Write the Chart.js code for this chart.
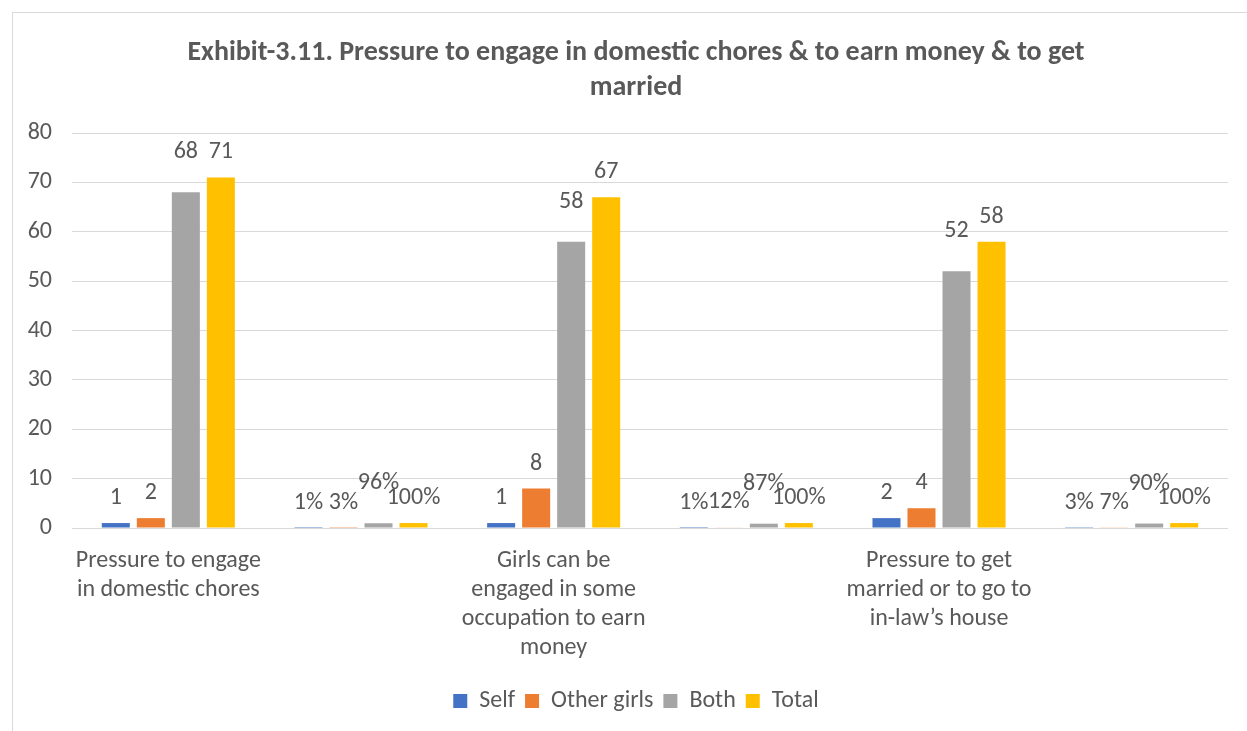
<!DOCTYPE html>
<html>
<head>
<meta charset="utf-8">
<script src="https://cdn.jsdelivr.net/npm/chart.js@4.4.0/dist/chart.umd.min.js"></script>
<style>
  html, body { margin: 0; padding: 0; background: #ffffff; width: 1247px; height: 731px; overflow: hidden; }
  #frame { position: absolute; left: 12px; top: 12px; width: 1240px; height: 730px; border: 1px solid #d9d9d9; box-sizing: border-box; }
  #wrap { position: absolute; left: 0; top: 0; width: 1247px; height: 731px; }
</style>
</head>
<body>
<div id="frame"></div>
<div id="wrap"><canvas id="c" width="1247" height="731"></canvas></div>
<script>
const titleLines = ["Exhibit-3.11. Pressure to engage in domestic chores & to earn money & to get", "married"];
const categories = [
  ["Pressure to engage", "in domestic chores"],
  "",
  ["Girls can be", "engaged in some", "occupation to earn", "money"],
  "",
  ["Pressure to get", "married or to go to", "in-law\u2019s house"],
  ""
];
const percentColumns = [false, true, false, true, false, true];
const seriesNames = ["Self", "Other girls", "Both", "Total"];
const selfValues  = [1, 0.01, 1, 0.01, 2, 0.03];
const otherValues = [2, 0.03, 8, 0.12, 4, 0.07];
const bothValues  = [68, 0.96, 58, 0.87, 52, 0.90];
const totalValues = [71, 1.00, 67, 1.00, 58, 1.00];
const yTicks = [0, 10, 20, 30, 40, 50, 60, 70, 80];

const FONT = "Carlito, 'Liberation Sans', Arial, sans-serif";
const TXT = "#595959";

const labelPlugin = {
  id: 'barLabels',
  afterDatasetsDraw(chart) {
    const ctx = chart.ctx;
    ctx.save();
    ctx.font = "24px " + FONT;
    ctx.fillStyle = TXT;
    ctx.textAlign = 'center';
    ctx.textBaseline = 'middle';
    chart.data.datasets.forEach((ds, di) => {
      const meta = chart.getDatasetMeta(di);
      meta.data.forEach((el, i) => {
        const v = ds.data[i];
        const txt = percentColumns[i] ? Math.round(v * 100) + '%' : String(v);
        ctx.fillText(txt, el.x, el.y - ds.labelLift);
      });
    });
    ctx.restore();
  }
};

new Chart(document.getElementById('c'), {
  type: 'bar',
  data: {
    labels: categories,
    datasets: [
      { label: seriesNames[0], data: selfValues,  backgroundColor: '#4472C4', labelLift: 25 },
      { label: seriesNames[1], data: otherValues, backgroundColor: '#ED7D31', labelLift: 25 },
      { label: seriesNames[2], data: bothValues,  backgroundColor: '#A5A5A5', labelLift: 40 },
      { label: seriesNames[3], data: totalValues, backgroundColor: '#FFC000', labelLift: 25 }
    ]
  },
  options: {
    responsive: false,
    animation: false,
    devicePixelRatio: 1,
    layout: { padding: { left: 25, right: 0, top: 35, bottom: 8 } },
    datasets: { bar: { categoryPercentage: 0.727, barPercentage: 0.8 } },
    plugins: {
      title: {
        display: true,
        text: titleLines,
        color: TXT,
        font: { family: FONT, size: 28, weight: 'bold', lineHeight: 1.25 },
        padding: { top: 0, bottom: 28 }
      },
      legend: {
        position: 'bottom',
        labels: {
          color: TXT,
          font: { family: FONT, size: 24 },
          boxWidth: 14, boxHeight: 14, padding: 10
        }
      },
      tooltip: { enabled: false }
    },
    scales: {
      x: {
        grid: { display: false, drawTicks: false },
        border: { display: false },
        ticks: { color: TXT, font: { family: FONT, size: 24, lineHeight: 1.2 }, padding: 19, maxRotation: 0, autoSkip: false },
        afterFit(scale) { scale.height = 151; }
      },
      y: {
        min: 0, max: 80,
        afterBuildTicks(scale) { scale.ticks = yTicks.map(v => ({ value: v })); },
        grid: { color: '#d9d9d9', lineWidth: 1, drawTicks: false },
        border: { display: false },
        ticks: { color: TXT, font: { family: FONT, size: 24 }, padding: 20 },
        afterFit(scale) { scale.width = 47; }
      },
      yRightSpace: {
        position: 'right',
        display: true,
        grid: { display: false, drawTicks: false },
        border: { display: false },
        ticks: { display: false },
        afterFit(scale) { scale.width = 19; }
      }
    }
  },
  plugins: [labelPlugin]
});
</script>
</body>
</html>
